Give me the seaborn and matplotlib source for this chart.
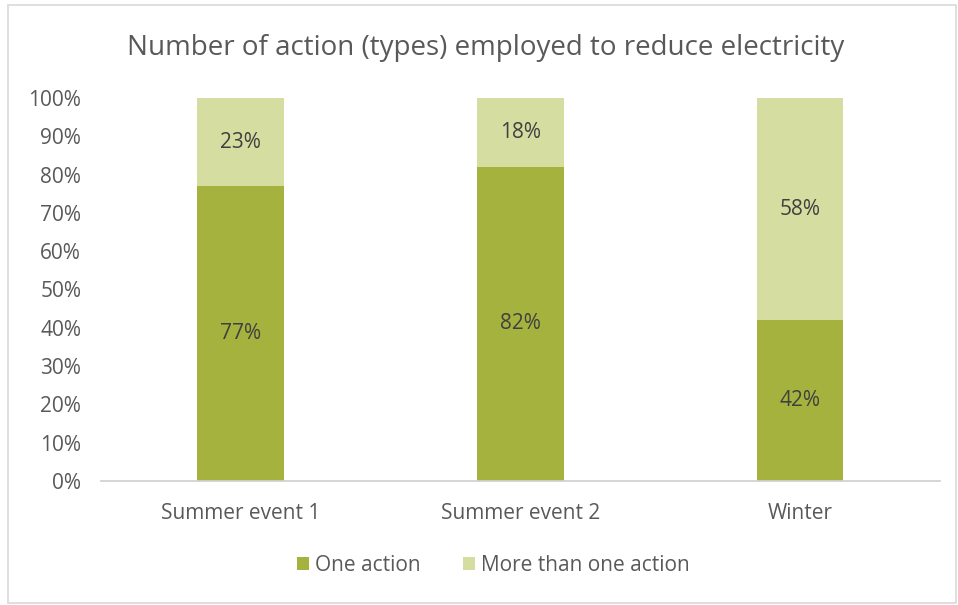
import pandas as pd
import matplotlib.pyplot as plt
import seaborn as sns
from matplotlib.patches import Rectangle
from matplotlib.ticker import PercentFormatter

# ------------------ DATOS ------------------
categorias = ["Summer event 1", "Summer event 2", "Winter"]
una_accion = [77, 82, 42]
mas_de_una = [23, 18, 58]

df = pd.DataFrame({"Evento": categorias, "Una": una_accion, "Mas": mas_de_una})
df["Total"] = df["Una"] + df["Mas"]

verde_oscuro = "#A5B23E"
verde_claro = "#D5DEA0"
gris_texto = "#595959"

# ------------------ GRAFICO ------------------
sns.set_theme(style="white")
plt.rcParams["font.family"] = ["Open Sans", "DejaVu Sans"]

fig = plt.figure(figsize=(9.58, 6.05), dpi=100)
ax = fig.add_axes([0.105, 0.205, 0.876, 0.633])

ancho = 0.31
sns.barplot(data=df, x="Evento", y="Total", color=verde_claro, width=ancho,
            saturation=1, ax=ax, label="More than one action", linewidth=0)
sns.barplot(data=df, x="Evento", y="Una", color=verde_oscuro, width=ancho,
            saturation=1, ax=ax, label="One action", linewidth=0)
handles, labels = ax.get_legend_handles_labels()
if ax.get_legend() is not None:
    ax.get_legend().remove()

# etiquetas de valores
for i, (u, m) in enumerate(zip(una_accion, mas_de_una)):
    ax.text(i, u / 2, f"{u}%", ha="center", va="center", fontsize=15, color="#404040")
    ax.text(i, u + m / 2, f"{m}%", ha="center", va="center", fontsize=15, color="#404040")

ax.set_xlim(-0.5, 2.5)
ax.set_ylim(0, 100)
ax.set_yticks(range(0, 101, 10))
ax.yaxis.set_major_formatter(PercentFormatter(decimals=0))
ax.set_xlabel("")
ax.set_ylabel("")
ax.tick_params(axis="both", colors=gris_texto, labelsize=15, length=0)
ax.tick_params(axis="x", pad=16)
ax.tick_params(axis="y", pad=14)
for s in ["top", "right", "left"]:
    ax.spines[s].set_visible(False)
ax.spines["bottom"].set_color("#D0D0D0")
ax.grid(False)

fig.text(0.507, 0.921, "Number of action (types) employed to reduce electricity",
         ha="center", va="center", fontsize=20, color=gris_texto)

orden = [labels.index("One action"), labels.index("More than one action")]
fig.legend([handles[k] for k in orden], [labels[k] for k in orden],
           loc="center", bbox_to_anchor=(0.515, 0.066), ncol=2, frameon=False,
           fontsize=15, labelcolor=gris_texto, handlelength=0.6,
           handleheight=0.6, handletextpad=0.3, columnspacing=2.0)

# borde del grafico
fig.patches.append(Rectangle((0.008, 0.004), 0.99, 0.988, transform=fig.transFigure,
                             fill=False, edgecolor="#D9D9D9", linewidth=1.2))

fig.savefig("out.png", dpi=100, facecolor="white")
plt.close()
